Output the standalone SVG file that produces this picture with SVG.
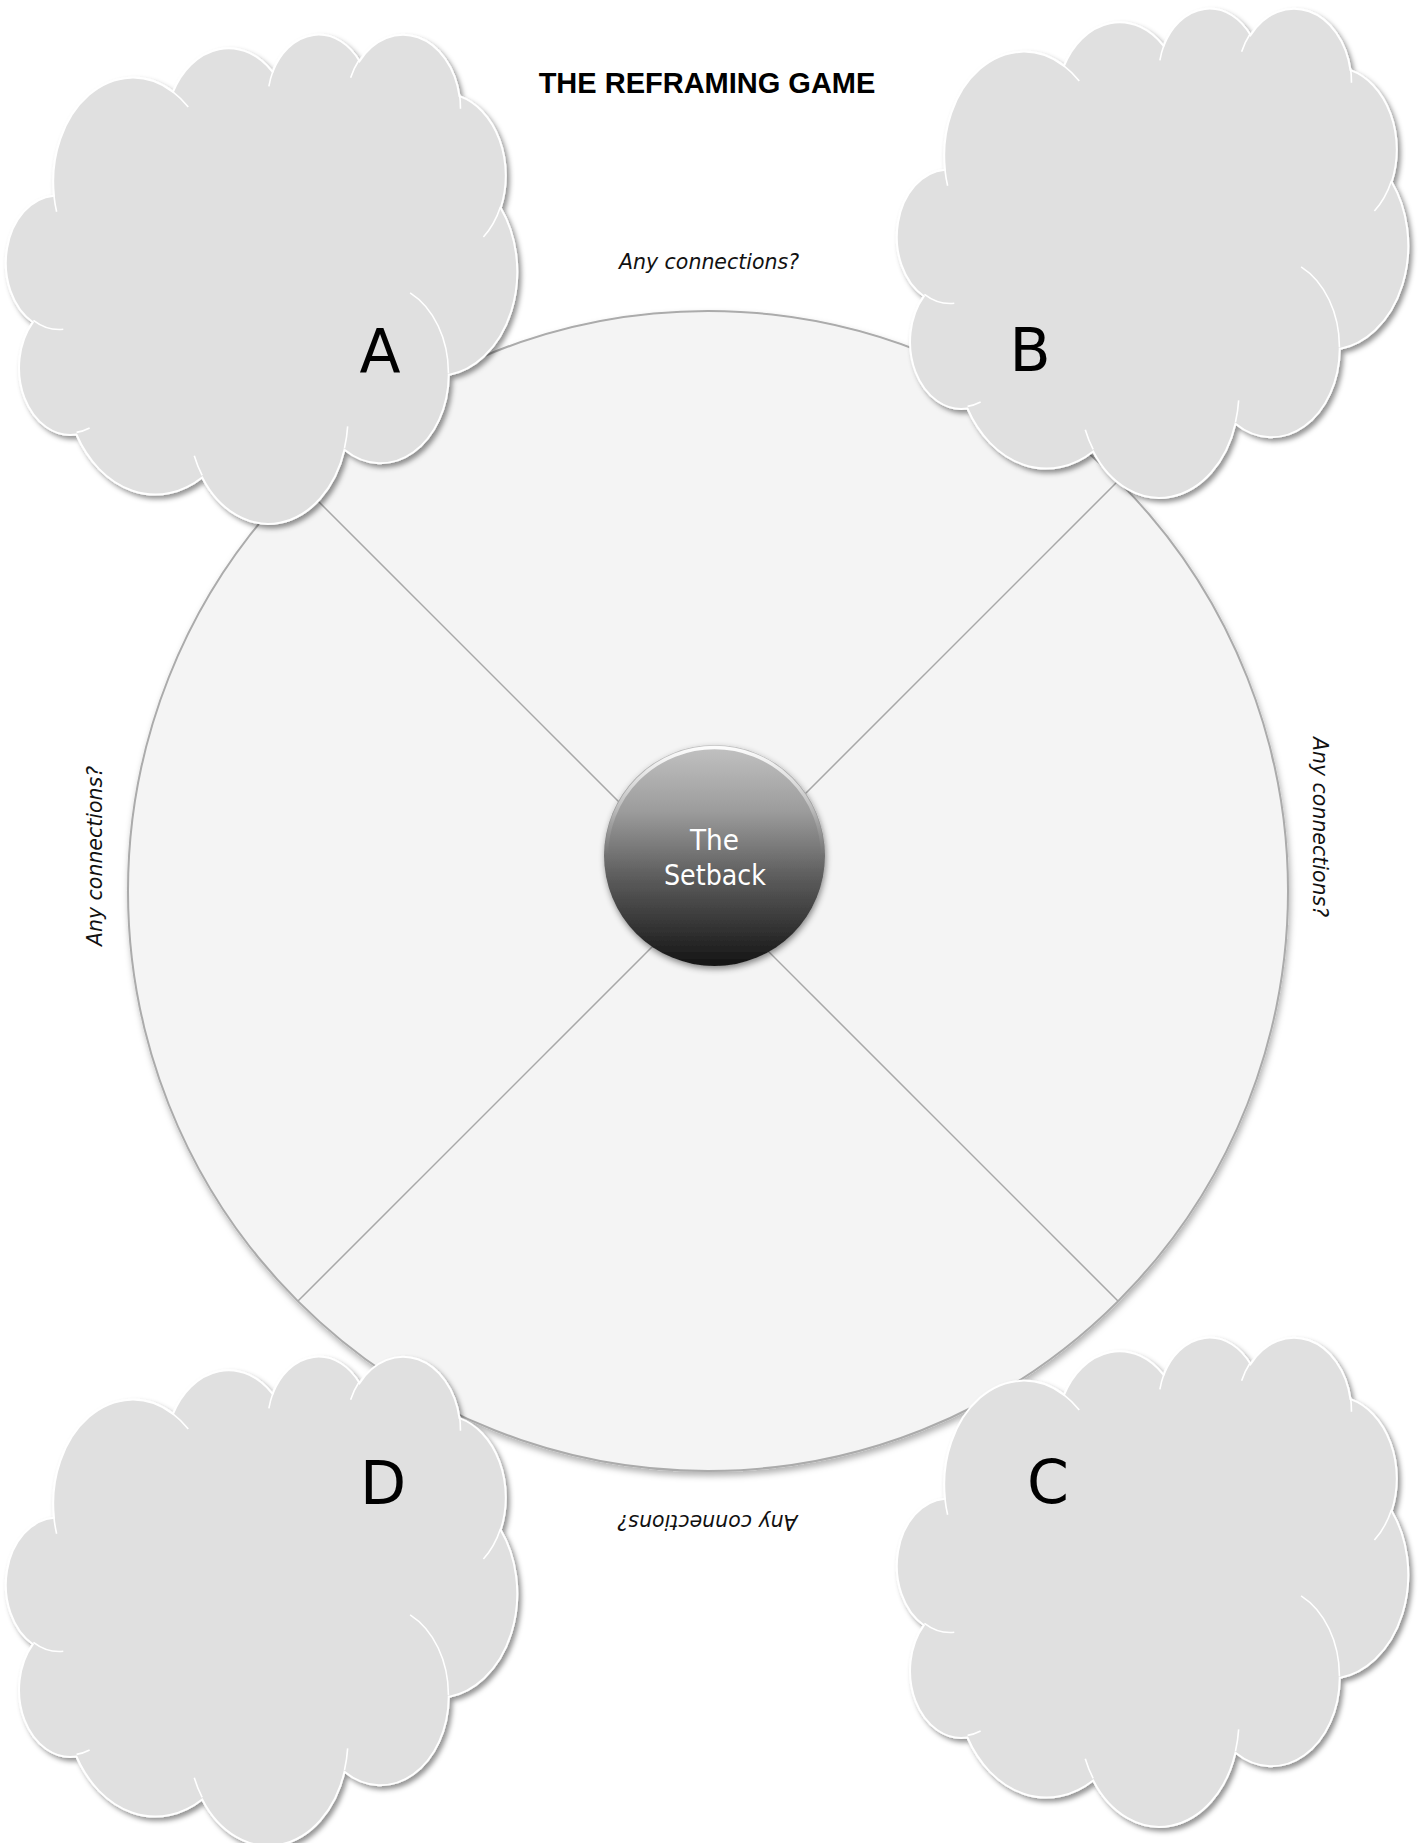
<svg xmlns="http://www.w3.org/2000/svg" xmlns:xlink="http://www.w3.org/1999/xlink" width="1426" height="1843" viewBox="0 0 1426 1843">
<style>
.title{font-family:"Liberation Sans",Arial,sans-serif;font-weight:bold;font-size:29px;fill:#000;text-anchor:middle}
.q{font-family:"DejaVu Sans",Verdana,sans-serif;font-style:italic;font-size:20.5px;fill:#111;text-anchor:middle}
.letter{font-family:"DejaVu Sans",Verdana,sans-serif;font-size:60px;fill:#000;text-anchor:middle}
.center{font-family:"DejaVu Sans",Verdana,sans-serif;font-size:28px;fill:#fff;text-anchor:middle}
.cloud{fill:#e0e0e0;stroke:#fff;stroke-width:2}
.inner{fill:none;stroke:#fff;stroke-width:1.6}
.spoke{stroke:#a8a8a8;stroke-width:1.5;fill:none}
</style>
<defs>
<filter id="cloudShadow" x="-10%" y="-10%" width="125%" height="125%">
<feDropShadow dx="3" dy="3.5" stdDeviation="2.5" flood-color="#000" flood-opacity="0.42"/>
</filter>
<filter id="bigShadow" x="-10%" y="-10%" width="125%" height="125%">
<feDropShadow dx="1.5" dy="4" stdDeviation="3" flood-color="#000" flood-opacity="0.3"/>
</filter>
<filter id="hubShadow" x="-20%" y="-20%" width="140%" height="140%">
<feDropShadow dx="1" dy="3" stdDeviation="3" flood-color="#000" flood-opacity="0.45"/>
</filter>
<linearGradient id="hubFill" x1="0" y1="0" x2="0" y2="1">
<stop offset="0" stop-color="#c2c2c2"/>
<stop offset="0.3" stop-color="#9c9c9c"/>
<stop offset="0.6" stop-color="#5c5c5c"/>
<stop offset="1" stop-color="#141414"/>
</linearGradient>
<linearGradient id="hubRim" x1="0" y1="0" x2="0" y2="1">
<stop offset="0" stop-color="#fff" stop-opacity="0.95"/>
<stop offset="0.35" stop-color="#fff" stop-opacity="0.15"/>
<stop offset="0.5" stop-color="#fff" stop-opacity="0"/>
</linearGradient>
<g id="cloudShape">
<path class="cloud" d="M45.95,162.66 A79.57,104.03 0 0 1 165.02,58.89 A62.84,82.26 0 0 1 264.59,38.88 A51.43,67.29 0 0 1 351.51,28.10 A57.23,74.65 0 0 1 451.48,63.15 A62.84,82.33 0 0 1 492.72,175.03 A79.83,104.36 0 0 1 440.72,341.93 A68.16,89.05 0 0 1 336.46,416.75 A79.55,104.31 0 0 1 194.19,444.49 A90.96,119.34 0 0 1 68.39,401.52 A51.37,66.99 0 0 1 24.91,289.20 A51.19,67.29 0 0 1 45.95,162.66 Z" filter="url(#cloudShadow)"/>
<path class="inner" d="M55.29,296.30 A51.19,67.29 0 0 1 25.44,287.28 M81.63,395.03 A51.37,66.99 0 0 1 68.57,399.35 M194.15,442.47 A79.55,104.31 0 0 1 186.28,422.77 M339.65,393.36 A79.55,104.31 0 0 1 336.50,414.98 M402.12,259.82 A68.16,89.05 0 0 1 440.43,340.59 M492.48,173.80 A62.84,82.33 0 0 1 475.41,204.09 M451.54,61.42 A57.23,74.65 0 0 1 452.44,75.72 M342.61,44.73 A57.23,74.65 0 0 1 351.35,26.48 M260.87,53.43 A51.43,67.29 0 0 1 265.10,37.69 M164.95,58.77 A79.57,104.03 0 0 1 180.28,74.05 M48.63,178.72 A79.57,104.03 0 0 1 45.95,162.65"/>
</g>
</defs>
<rect x="0" y="0" width="1426" height="1843" fill="#fff"/>

<g id="wheel">
<circle cx="708" cy="891" r="580" fill="#f4f4f4" stroke="#ababab" stroke-width="2" filter="url(#bigShadow)"/>
</g>

<g id="connectors">
<line class="spoke" x1="298" y1="481" x2="1118" y2="1301"/>
<line class="spoke" x1="1118" y1="481" x2="298" y2="1301"/>
</g>

<g id="setback">
<circle cx="714.5" cy="855.5" r="110.5" fill="url(#hubFill)" filter="url(#hubShadow)"/>
<circle cx="714.5" cy="855.5" r="108" fill="none" stroke="url(#hubRim)" stroke-width="3.5"/>
<text class="center" x="714.5" y="850" textLength="49" lengthAdjust="spacingAndGlyphs">The</text>
<text class="center" x="715" y="885" textLength="102" lengthAdjust="spacingAndGlyphs">Setback</text>
</g>

<g id="cloud-a">
<use xlink:href="#cloudShape" href="#cloudShape" transform="translate(8,33)"/>
<text class="letter" x="380" y="372">A</text>
</g>
<g id="cloud-b">
<use xlink:href="#cloudShape" href="#cloudShape" transform="translate(899,7)"/>
<text class="letter" x="1030" y="371">B</text>
</g>
<g id="cloud-c">
<use xlink:href="#cloudShape" href="#cloudShape" transform="translate(899,1336)"/>
<text class="letter" x="1048" y="1503">C</text>
</g>
<g id="cloud-d">
<use xlink:href="#cloudShape" href="#cloudShape" transform="translate(8,1355)"/>
<text class="letter" x="383" y="1504">D</text>
</g>

<g id="labels">
<text class="title" x="707" y="93">THE REFRAMING GAME</text>
<text class="q" x="709" y="269">Any connections?</text>
<text class="q" transform="translate(102,856) rotate(-90)">Any connections?</text>
<text class="q" transform="translate(1313,827) rotate(90)">Any connections?</text>
<text class="q" transform="translate(707.5,1515) rotate(180)">Any connections?</text>
</g>
</svg>
